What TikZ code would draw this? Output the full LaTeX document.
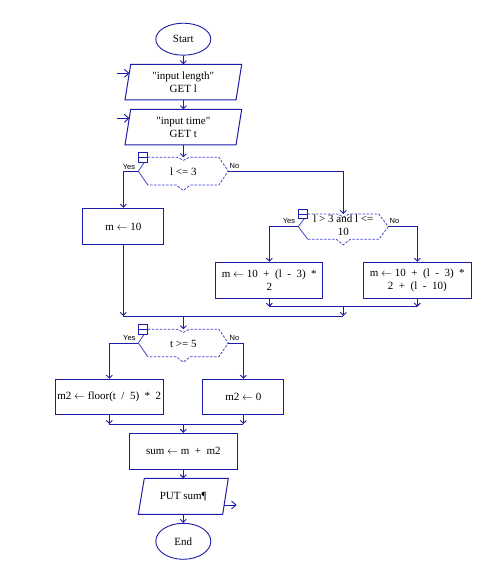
\documentclass[tikz,border=0pt]{standalone}
\usepackage{fontspec}
\setmainfont{Liberation Serif}
\newfontfamily\lblfont{Liberation Sans}
\usetikzlibrary{arrows.meta,shapes.geometric}
\definecolor{fc}{RGB}{28,28,168}
\definecolor{dc}{RGB}{70,70,205}
\newcommand{\txt}{\fontsize{11}{12.5}\selectfont}
\newcommand{\gp}{\hspace{0.5em}}
\newcommand{\la}{\ensuremath{\leftarrow}}
\newcommand{\qq}{\textquotedbl}
\newcommand{\decisionshape}[4]{%
  \path ({#2},{(#3+#4)/2}) coordinate (#1-c)
        ({#2-45},{(#3+#4)/2}) coordinate (#1-w)
        ({#2+45},{(#3+#4)/2}) coordinate (#1-e)
        ({#2},{#3}) coordinate (#1-n)
        ({#2},{#4}) coordinate (#1-s);
  \draw[decline] ({#2-35.5},{#3}) -- ({#2-6},{#3}) -- ({#2},{#3+3}) -- ({#2+6},{#3}) -- ({#2+35.5},{#3}) -- (#1-e) -- ({#2+35.5},{#4}) -- ({#2+7},{#4}) -- ({#2},{#4+5.5}) -- ({#2-7},{#4}) -- ({#2-35.5},{#4});
  \draw[draw=dc,line width=0.8pt] ({#2-35.5},{#4}) -- (#1-w) -- ({#2-35.5},{#3});
  \draw[icon] ({#2-45},{#3-4.6}) rectangle ({#2-35.6},{#3+4.8});
  \draw[draw=fc,line width=0.8pt] ({#2-45},{#3+0.1}) -- ({#2-35.6},{#3+0.1});
}
\begin{document}
\begin{tikzpicture}[x=1pt,y=-1pt,
  flow/.style={draw=fc,line width=1pt},
  arr/.style={flow,-{Straight Barb[length=3pt,width=6pt,line width=0.9pt]}},
  ioarr/.style={flow,-{Straight Barb[length=4.5pt,width=8pt,line width=0.9pt]}},
  term/.style={ellipse,draw=fc,line width=0.9pt,minimum width=55pt,inner sep=0pt,font=\txt},
  procbox/.style={rectangle,draw=fc,line width=1pt,minimum height=36pt,inner sep=0pt,align=center,font=\txt},
  iotext/.style={inner sep=0pt,align=center,font=\txt},
  lbl/.style={inner sep=0pt,font=\lblfont\fontsize{7.5}{8}\selectfont},
  decline/.style={draw=dc,line width=0.8pt,dash pattern=on 2.5pt off 1.5pt},
  icon/.style={draw=fc,line width=0.8pt,fill=white}]

\useasboundingbox[fill=white] (0,0) rectangle (490,585);

% Start
\node[term,minimum height=32pt] (start) at (183.3,39.2) {Start};

% input 1
\draw[flow] (130.7,64.3) -- (241.7,64.3) -- (236,100) -- (125,100) -- cycle;
\node[iotext] (in1) at (183.3,82.4) {\qq input length\qq\\GET l};
\coordinate (in1-n) at (183.3,64.3);
\coordinate (in1-s) at (183.3,100);
\coordinate (in1-src) at (116.7,73.3);
\coordinate (in1-in) at (129.5,73.3);
\draw[ioarr] (in1-src) -- (in1-in);

% input 2
\draw[flow] (130.7,109.3) -- (241.7,109.3) -- (236,145) -- (125,145) -- cycle;
\node[iotext] (in2) at (183.3,127.4) {\qq input time\qq\\GET t};
\coordinate (in2-n) at (183.3,109.3);
\coordinate (in2-s) at (183.3,145);
\coordinate (in2-src) at (116.7,118.3);
\coordinate (in2-in) at (129.5,118.3);
\draw[ioarr] (in2-src) -- (in2-in);

\draw[arr] (start.south) -- (in1-n);
\draw[arr] (in1-s) -- (in2-n);

% decision 1
\decisionshape{d1}{183.3}{157.3}{185}
\node[iotext] (d1t) at (183.3,171.8) {l <= 3};
\node[lbl] (y1) at (129,166.5) {Yes};
\node[lbl] (n1) at (234.5,166) {No};
\draw[arr] (in2-s) -- (d1-n);

% m <- 10
\node[procbox,minimum width=81pt,minimum height=36.5pt] (m10) at (123.3,226.5) {m \la{} 10};
\draw[arr] (d1-w) -| (m10.north);
\draw[arr] (d1-e) -| (343.3,214);

% decision 2
\decisionshape{d2}{343.3}{214}{239.3}
\node[iotext] (d2t) at (343.3,225.3) {l > 3 and l <=\\10};
\node[lbl] (y2) at (289,221) {Yes};
\node[lbl] (n2) at (394.5,221) {No};

\node[procbox,minimum width=107pt] (b2l) at (269.3,280.3) {m \la{} 10\gp+\gp(l\gp-\gp3)\gp*\\2};
\node[procbox,minimum width=108.4pt] (b2r) at (417.3,280.3) {m \la{} 10\gp+\gp(l\gp-\gp3)\gp*\\2\gp+\gp(l\gp-\gp10)};
\draw[arr] (d2-w) -| (b2l.north);
\draw[arr] (d2-e) -| (b2r.north);

% merge 2
\coordinate (j2l) at (269.3,306.7);
\coordinate (j2r) at (417.3,306.7);
\coordinate (j2) at (343.3,306.7);
\draw[arr] (b2l.south) -- (j2l);
\draw[arr] (b2r.south) -- (j2r);
\draw[flow] (j2l) -- (j2r);

% merge 1
\coordinate (j1) at (343.3,316);
\coordinate (j1l) at (123.3,316);
\coordinate (j1c) at (183.3,316);
\draw[arr] (j2) -- (j1);
\draw[arr] (m10.south) -- (j1l);
\draw[flow] (j1l) -- (j1);

% decision 3
\decisionshape{d3}{183.3}{329.3}{356.7}
\node[iotext] (d3t) at (183.3,343.5) {t >= 5};
\node[lbl] (y3) at (129.3,337.7) {Yes};
\node[lbl] (n3) at (234.5,337.7) {No};
\draw[arr] (j1c) -- (d3-n);

\node[procbox,minimum width=107.6pt,minimum height=35.7pt] (b3l) at (109.3,397.1) {m2 \la{} floor(t\gp/\gp5)\gp*\gp2};
\node[procbox,minimum width=81pt,minimum height=35.7pt] (b3r) at (243.3,397.1) {m2 \la{} 0};
\draw[arr] (d3-w) -| (b3l.north);
\draw[arr] (d3-e) -| (b3r.north);

% merge 3
\coordinate (j3l) at (109.3,424);
\coordinate (j3r) at (243.3,424);
\coordinate (j3c) at (183.3,424);
\draw[arr] (b3l.south) -- (j3l);
\draw[arr] (b3r.south) -- (j3r);
\draw[flow] (j3l) -- (j3r);

% sum
\node[procbox,minimum width=108pt] (sum) at (183.3,451.3) {sum \la{} m\gp+\gp m2};
\draw[arr] (j3c) -- (sum.north);

% output
\draw[flow] (144.3,478.3) -- (228.3,478.3) -- (222.7,514.3) -- (138.3,514.3) -- cycle;
\node[iotext] (out) at (183.3,497) {PUT sum¶};
\coordinate (out-n) at (183.3,478.3);
\coordinate (out-s) at (183.3,514.3);
\coordinate (out-from) at (224.1,505);
\coordinate (out-to) at (236.7,505);
\draw[ioarr] (out-from) -- (out-to);
\draw[arr] (sum.south) -- (out-n);

% End
\node[term,minimum height=36pt] (end) at (183.3,541.3) {End};
\draw[arr] (out-s) -- (end.north);

\end{tikzpicture}
\end{document}
